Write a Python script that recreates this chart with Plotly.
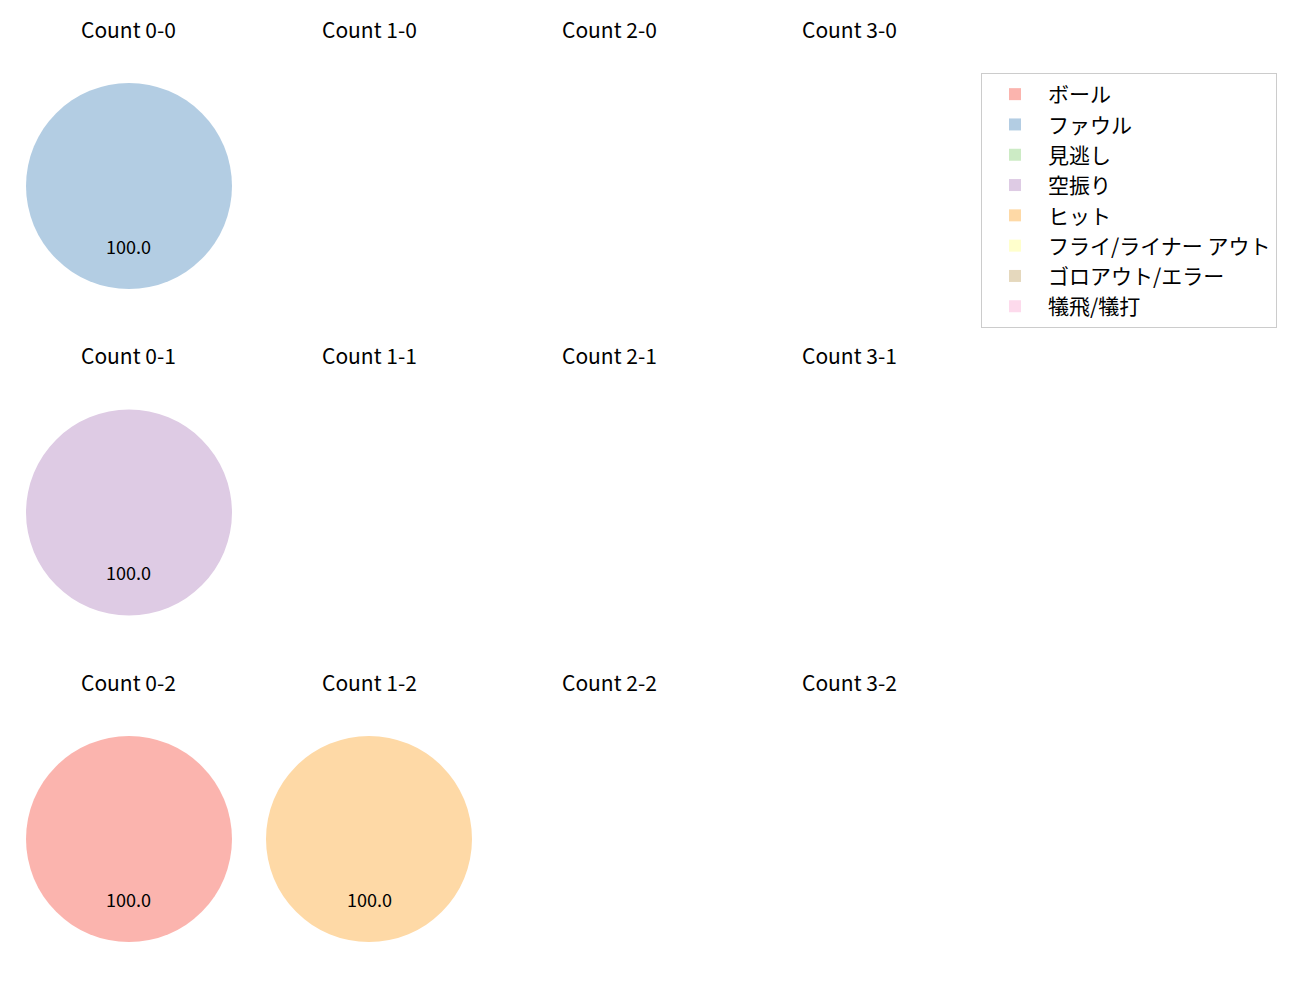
import plotly.graph_objects as go

categories = ["ボール", "ファウル", "見逃し", "空振り", "ヒット", "フライ/ライナー アウト", "ゴロアウト/エラー", "犠飛/犠打"]
colors = ["#fbb4ae", "#b3cde3", "#ccebc5", "#decbe4", "#fed9a6", "#ffffcc", "#e5d8bd", "#fddaec"]

balls = [0, 1, 2, 3]
strikes = [0, 1, 2]

# percentage per category for each count (only non-empty counts listed)
count_values = {
    (0, 0): [0, 100.0, 0, 0, 0, 0, 0, 0],
    (0, 1): [0, 0, 0, 100.0, 0, 0, 0, 0],
    (0, 2): [100.0, 0, 0, 0, 0, 0, 0, 0],
    (1, 2): [0, 0, 0, 0, 100.0, 0, 0, 0],
}

W, H = 1300, 1000
OFF = 8  # page offset
col_x = [129 - OFF, 369 - OFF, 609 - OFF, 849 - OFF]
row_y = [186 - OFF, 512.5 - OFF, 839 - OFF]
R = 103
FONT = "Noto Sans CJK JP, Noto Sans, sans-serif"

fig = go.Figure()
annotations = []
first = True
for si, s in enumerate(strikes):
    for bi, b in enumerate(balls):
        cx, cy = col_x[bi], row_y[si]
        annotations.append(dict(
            text=f"Count {b}-{s}", x=cx / W, y=1 - (cy - 157) / H,
            xref="paper", yref="paper", showarrow=False,
            xanchor="center", yanchor="middle",
            font=dict(size=21, color="#000", family=FONT)))
        vals = count_values.get((b, s))
        if vals is None:
            continue
        fig.add_trace(go.Pie(
            labels=categories, values=vals,
            marker=dict(colors=colors),
            sort=False, direction="counterclockwise", rotation=90,
            textinfo="none", hoverinfo="label+percent",
            showlegend=first,
            domain=dict(x=[(cx - R) / W, (cx + R) / W],
                        y=[1 - (cy + R) / H, 1 - (cy - R) / H]),
        ))
        first = False
        total = sum(vals)
        for v in vals:
            if v > 0:
                annotations.append(dict(
                    text=f"{v / total * 100:.1f}", x=cx / W,
                    y=1 - (cy + 0.58 * R) / H,
                    xref="paper", yref="paper", showarrow=False,
                    xanchor="center", yanchor="middle",
                    font=dict(size=18, color="#000", family=FONT)))

fig.update_layout(
    width=W, height=H,
    margin=dict(l=0, r=0, t=0, b=0),
    paper_bgcolor="white", plot_bgcolor="white",
    annotations=annotations,
    font=dict(family=FONT, color="#000"),
    legend=dict(
        x=(981 - OFF) / W, y=1 - (73 - OFF) / H, xanchor="left", yanchor="top",
        bgcolor="white", bordercolor="#cccccc", borderwidth=1,
        font=dict(size=21, family=FONT, color="#000"),
        traceorder="normal", itemwidth=56,
    ),
)

fig.write_html("out.html")
